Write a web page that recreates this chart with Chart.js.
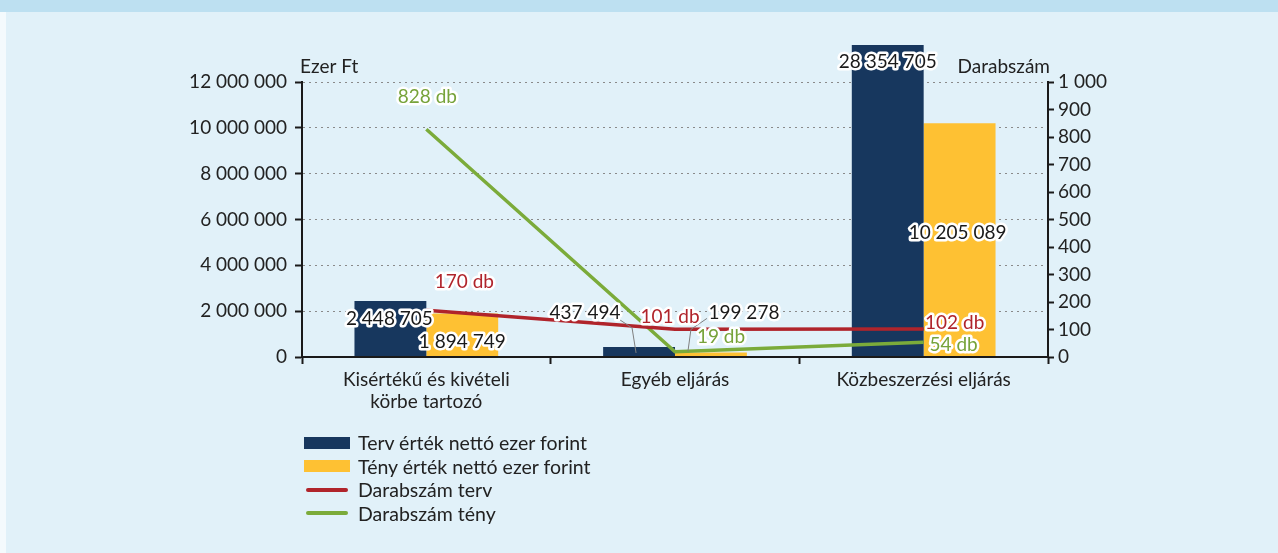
<!DOCTYPE html>
<html lang="hu">
<head>
<meta charset="utf-8">
<script src="https://cdn.jsdelivr.net/npm/chart.js@4.4.1/dist/chart.umd.min.js"></script>
<style>
    html, body { margin: 0; padding: 0; }
    body { width: 1278px; height: 553px; position: relative; background: #f4fafd; overflow: hidden; font-family: Lato, "Open Sans", sans-serif; }
    #panel { position: absolute; left: 6px; top: 0; right: 0; bottom: 0; background: #e1f1f9; }
    #band { position: absolute; left: 0; top: 0; width: 1278px; height: 12px; background: #bde0f1; }
    #chart { position: absolute; left: 0; top: 0; }
    #legend { position: absolute; left: 304px; top: 431px; color: #222; font-size: 19.5px; }
    .item { height: 23.5px; display: flex; align-items: center; }
    .swatch { width: 46px; margin-right: 8px; }
</style>
</head>
<body>
<div id="panel"></div>
<div id="band"></div>
<canvas id="chart" width="1278" height="553"></canvas>
<div id="legend"></div>
<script>
const categories = [['Kisértékű és kivételi', 'körbe tartozó'], 'Egyéb eljárás', 'Közbeszerzési eljárás'];
const tervErtek = [2448705, 437494, 28354705];
const tenyErtek = [1894749, 199278, 10205089];
const darabTerv = [170, 101, 102];
const darabTeny = [828, 19, 54];
const seriesNames = ['Terv érték nettó ezer forint', 'Tény érték nettó ezer forint', 'Darabszám terv', 'Darabszám tény'];
const leftMax = 12000000;
const leftStep = 2000000;
const rightMax = 1000;
const rightStep = 100;

const colors = ['#17375e', '#fec133', '#b0242b', '#7bab3a'];
const FONT = 'Lato, "Open Sans", sans-serif';
const FS = 19;

function fmt(v) {
    return String(v).replace(/\B(?=(\d{3})+(?!\d))/g, ' ');
}

// label offsets relative to each mark (bars: top of bar, lines: the point)
const labelOffsets = [
    [[-1, 18], [-54, -34], [0, 17]],
    [[0, 28], [33, -40], [-2, 110]],
    [[38, -28], [-5, -12], [31, -6]],
    [[1, -32], [46, -15], [30, 3]]
];
const labelColors = ['#1a1a1a', '#1a1a1a', '#b0242b', '#77a33a'];
const leaders = {
    '0-1': [[-22, -29], [-7, -19], [-3, 6]],
    '1-1': [[-4, -34], [-20, -23], [-23, -1]]
};
const BAR_CLIP = 37;

const labelPlugin = {
    id: 'labels',
    afterDatasetsDraw(chart) {
        const ctx = chart.ctx;
        const area = chart.chartArea;
        ctx.save();
        // leader lines
        ctx.strokeStyle = '#7f7f7f';
        ctx.lineWidth = 1;
        Object.keys(leaders).forEach(key => {
            const [d, i] = key.split('-').map(Number);
            const el = chart.getDatasetMeta(d).data[i];
            const pts = leaders[key];
            ctx.beginPath();
            pts.forEach((p, k) => {
                const x = el.x + p[0], y = el.y + p[1];
                if (k === 0) ctx.moveTo(x, y); else ctx.lineTo(x, y);
            });
            ctx.stroke();
        });
        ctx.font = FS + 'px ' + FONT;
        ctx.textAlign = 'center';
        ctx.textBaseline = 'middle';
        ctx.lineJoin = 'round';
        chart.data.datasets.forEach((ds, d) => {
            const meta = chart.getDatasetMeta(d);
            meta.data.forEach((el, i) => {
                const v = ds.data[i];
                const text = d < 2 ? fmt(v) : v + ' db';
                const y0 = Math.max(el.y, area.top - BAR_CLIP);
                const x = el.x + labelOffsets[d][i][0];
                const y = y0 + labelOffsets[d][i][1];
                ctx.strokeStyle = '#ffffff';
                ctx.lineWidth = 5;
                ctx.strokeText(text, x, y);
                ctx.fillStyle = labelColors[d];
                ctx.fillText(text, x, y);
            });
        });
        // axis titles
        ctx.fillStyle = '#222';
        ctx.textAlign = 'left';
        ctx.fillText('Ezer Ft', area.left - 2, 67);
        ctx.textAlign = 'right';
        ctx.fillText('Darabszám', area.right + 2, 67);
        ctx.restore();
    }
};

const chart = new Chart(document.getElementById('chart'), {
    data: {
        labels: categories,
        datasets: [
            {
                type: 'bar', label: seriesNames[0], data: tervErtek, backgroundColor: colors[0],
                yAxisID: 'y', order: 1, clip: { left: 0, top: BAR_CLIP, right: 0, bottom: 0 }
            },
            {
                type: 'bar', label: seriesNames[1], data: tenyErtek, backgroundColor: colors[1],
                yAxisID: 'y', order: 1, clip: { left: 0, top: BAR_CLIP, right: 0, bottom: 0 }
            },
            {
                type: 'line', label: seriesNames[2], data: darabTerv, borderColor: colors[2],
                borderWidth: 3.5, pointRadius: 0, tension: 0, yAxisID: 'y1', order: 0
            },
            {
                type: 'line', label: seriesNames[3], data: darabTeny, borderColor: colors[3],
                borderWidth: 3.5, pointRadius: 0, tension: 0, yAxisID: 'y1', order: 0
            }
        ]
    },
    options: {
        responsive: false,
        animation: false,
        layout: { padding: { top: 82, left: 0, right: 0, bottom: 0 } },
        datasets: { bar: { categoryPercentage: 0.578, barPercentage: 1 } },
        plugins: { legend: { display: false }, tooltip: { enabled: false } },
        scales: {
            x: {
                offset: true,
                grid: { drawOnChartArea: false, offset: true, tickLength: 7, tickColor: '#1a1a1a', tickWidth: 2 },
                border: { color: '#1a1a1a', width: 2, z: 1 },
                ticks: { color: '#222', font: { family: FONT, size: FS, lineHeight: 1.15 }, padding: 5, maxRotation: 0 },
                afterFit(scale) { scale.height = 196; }
            },
            y: {
                position: 'left',
                min: 0, max: leftMax,
                grid: { color: '#8a8a8a', lineWidth: 1, tickLength: 7, tickColor: '#1a1a1a', tickWidth: 2 },
                border: { color: '#1a1a1a', width: 2, dash: [2, 4] },
                ticks: { stepSize: leftStep, color: '#222', font: { family: FONT, size: FS }, padding: 8, callback: v => fmt(v) },
                afterFit(scale) { scale.width = 302; }
            },
            y1: {
                position: 'right',
                min: 0, max: rightMax,
                grid: { drawOnChartArea: false, tickLength: 6, tickColor: '#1a1a1a', tickWidth: 2 },
                border: { color: '#1a1a1a', width: 2 },
                ticks: { stepSize: rightStep, color: '#222', font: { family: FONT, size: FS }, padding: 4, callback: v => fmt(v) },
                afterFit(scale) { scale.width = 230; }
            }
        }
    },
    plugins: [labelPlugin]
});

// vertical legend
const legend = document.getElementById('legend');
chart.data.datasets.forEach((ds, i) => {
    const item = document.createElement('div');
    item.className = 'item';
    const sw = document.createElement('span');
    sw.className = 'swatch';
    if (ds.type === 'bar') {
        sw.style.height = '12px';
        sw.style.background = ds.backgroundColor;
    } else {
        sw.style.height = '4px';
        sw.style.borderRadius = '2px';
        sw.style.background = ds.borderColor;
        sw.style.width = '42px';
        sw.style.margin = '0 10px 0 2px';
    }
    const txt = document.createElement('span');
    txt.textContent = ds.label;
    item.appendChild(sw);
    item.appendChild(txt);
    legend.appendChild(item);
});
</script>
</body>
</html>
